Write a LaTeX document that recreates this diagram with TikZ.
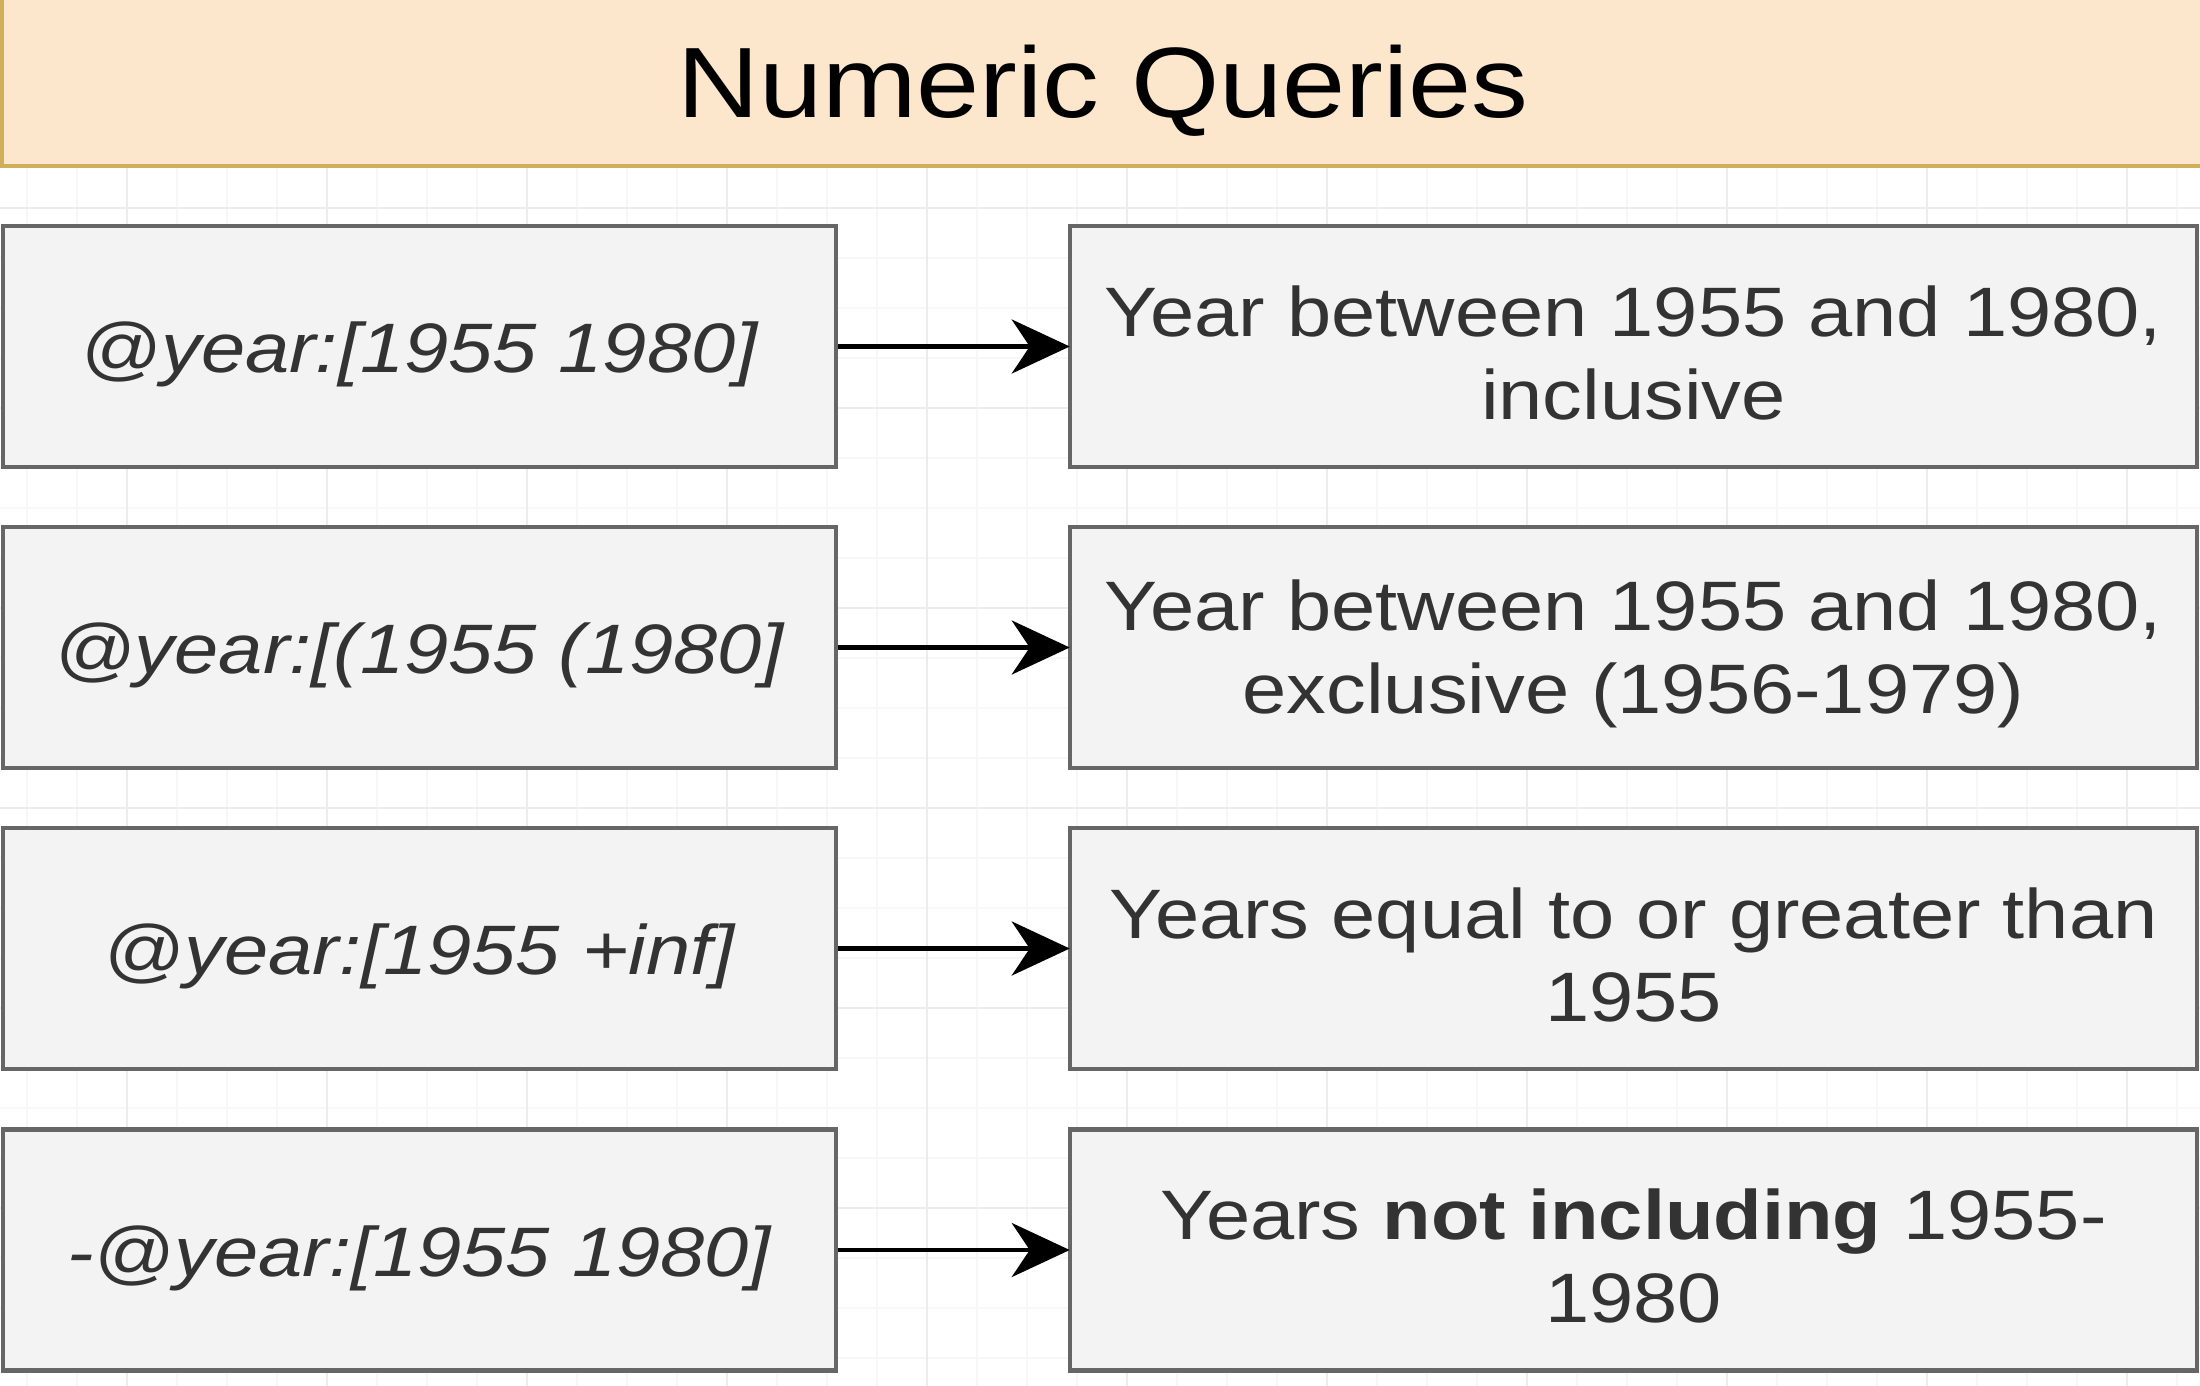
\documentclass[tikz,border=0pt]{standalone}
\usepackage{fontspec}
\setmainfont{Liberation Sans}[FakeStretch=1.135]
\usetikzlibrary{arrows.meta}
\definecolor{titlefill}{HTML}{FCE6CC}
\definecolor{titledraw}{HTML}{D2AE5A}
\definecolor{boxfill}{HTML}{F3F3F3}
\definecolor{boxdraw}{HTML}{666666}
\definecolor{txt}{HTML}{333333}
\definecolor{gridminor}{HTML}{F7F7F7}
\definecolor{gridmajor}{HTML}{ECECEC}
\tikzset{
  titlebox/.style={draw=titledraw, fill=titlefill, line width=3.5pt},
  boxbase/.style={draw=boxdraw, fill=boxfill, line width=4.5pt, minimum height=241pt, inner sep=0pt},
  querybox/.style={boxbase, minimum width=833pt},
  descbox/.style={boxbase, minimum width=1127pt},
  qtext/.style={text=txt, inner sep=0pt, font=\fontsize{70}{83}\selectfont\itshape},
  dtext/.style={text=txt, inner sep=0pt, align=center, font=\fontsize{70}{83}\selectfont},
  conn/.style={line width=4.5pt, -{Stealth[length=58pt, width=54pt, inset=18pt]}, shorten >=-2pt},
}
\begin{document}
\begin{tikzpicture}[x=1pt, y=-1pt]
\useasboundingbox (0,0) rectangle (2200,1386);
\clip (0,0) rectangle (2200,1386);
\fill[white] (0,0) rectangle (2200,1386);
% background grid
\begin{scope}[shift={(27,8)}]
\draw[gridminor, line width=1.2pt, step=50pt] (-27,160) grid (2200,1400);
\end{scope}
\begin{scope}[shift={(127,8)}]
\draw[gridmajor, line width=2pt, step=200pt] (-127,160) grid (2200,1400);
\end{scope}
% title
\draw[titlebox] (2,-20) rectangle (2230,166);
\node[anchor=base, font=\fontsize{100}{118}\selectfont, text=black] (title) at (1103,118) {Numeric Queries};
% query boxes
\node[querybox] (q1) at (419.25,346.5) {};
\node[querybox] (q2) at (419.25,647.5) {};
\node[querybox] (q3) at (419.25,948.5) {};
\node[querybox] (q4) at (419.25,1250) {};
\node[qtext] (q1t) at ([yshift=-8pt]q1.center) {@year:[1955 1980]};
\node[qtext] (q2t) at ([yshift=-8pt]q2.center) {@year:[(1955 (1980]};
\node[qtext] (q3t) at ([yshift=-8pt]q3.center) {@year:[1955 +inf]};
\node[qtext] (q4t) at ([yshift=-8pt]q4.center) {-@year:[1955 1980]};
% description boxes
\node[descbox] (d1) at (1633.5,346.5) {};
\node[descbox] (d2) at (1633.5,647.5) {};
\node[descbox] (d3) at (1633.5,948.5) {};
\node[descbox] (d4) at (1633.5,1250) {};
\node[dtext] (d1t) at ([yshift=-6pt]d1.center) {Year between 1955 and 1980,\\inclusive};
\node[dtext] (d2t) at ([yshift=-6pt]d2.center) {Year between 1955 and 1980,\\exclusive (1956-1979)};
\node[dtext] (d3t) at ([yshift=-6pt]d3.center) {Years equal to or greater than\\1955};
\node[dtext] (d4t) at ([yshift=-6pt]d4.center) {Years \textbf{not including} 1955-\\1980};
% connectors
\draw[conn] (q1.east) -- (d1.west);
\draw[conn] (q2.east) -- (d2.west);
\draw[conn] (q3.east) -- (d3.west);
\draw[conn] (q4.east) -- (d4.west);
\end{tikzpicture}
\end{document}
